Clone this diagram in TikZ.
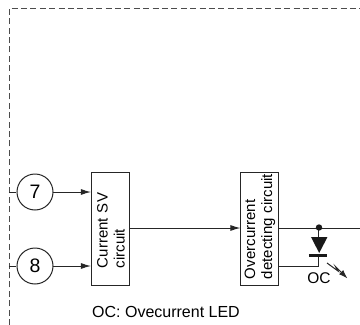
\documentclass[tikz,border=0pt]{standalone}
\usepackage{fontspec}
\setmainfont{Liberation Sans}
\usetikzlibrary{arrows.meta}
\begin{document}
\begin{tikzpicture}[x=1pt,y=-1pt]
        \tikzstyle{label}=[inner sep=0pt,font=\fontsize{15.5}{17}\selectfont]
        \tikzstyle{port}=[circle,draw=black!85,line width=1pt,minimum size=36pt,inner sep=0pt,font=\fontsize{19.5}{20}\selectfont]
        \tikzstyle{block}=[rectangle,draw=black!85,line width=1pt,minimum height=38pt,text width=113pt,inner sep=0pt,rotate=90,align=left,font=\fontsize{15}{17}\selectfont]
        \tikzstyle{wire}=[draw=black!85,line width=1pt]
        \tikzstyle{edge}=[draw=black!85,line width=1pt,-{Latex[length=10pt,width=6pt]}]
        \tikzstyle{boundary}=[draw=black!70,line width=0.9pt,dash pattern=on 6pt off 3.4pt]
        \useasboundingbox (0,0) rectangle (360,325);
        \coordinate (c0) at (9,325);
        \coordinate (c1) at (9,8);
        \coordinate (c2) at (360,8);
        \draw[boundary] (c0) -- (c1) -- (c2);
        \begin{scope}
           \node [port] (p7) at (35,192) {7};
           \node [port] (p8) at (35,266) {8};
           \node [block] (sv) at (111,228.5) {\hspace*{17pt}Current SV\\\hspace*{17pt}circuit};
           \node [block] (det) at (260,228.5) {\hspace*{6pt}Overcurrent\\\hspace*{6pt}detecting circuit};
           \node [label] (oc) at (319,278) {OC};
           \node [label,anchor=west,font=\fontsize{16}{17}\selectfont] (note) at (92,312) {OC: Ovecurrent LED};
           \coordinate (s7) at (9,192);
           \coordinate (s8) at (9,266);
           \coordinate (e7) at (91,192);
           \coordinate (e8) at (91,266);
           \coordinate (out) at (360,228);
           \coordinate (j1) at (319,228);
           \coordinate (top) at (319,237);
           \coordinate (bar) at (319,255);
           \coordinate (j2) at (319,266);
           \coordinate (d2) at (279,266);
           \coordinate (barl) at (309,255);
           \coordinate (barr) at (327.5,255);
           \path[wire] (s7) -- (p7);
           \path[wire] (s8) -- (p8);
           \path[edge] (p7) -- (e7);
           \path[edge] (p8) -- (e8);
           \path[edge] (sv.south |- 0,228) -- (det.north |- 0,228);
           \path[wire] (det.south |- 0,228) -- (out);
           \path[wire] (j1) -- (top);
           \path[wire] (bar) -- (j2) -- (d2);
           \fill[black!90] (319,227.5) circle (3.2pt);
           \fill[black!90] (311,237) -- (327.5,237) -- (319.2,253) -- cycle;
           \draw[black!90,line width=3pt] (barl) -- (barr);
           \coordinate (a1) at (327,263);
           \coordinate (a2) at (338,271);
           \coordinate (a3) at (335.5,266.5);
           \coordinate (a4) at (347.5,278.5);
           \path[draw=black!85,line width=1pt,-{Latex[length=9pt,width=6pt]}] (a1) -- (a2) -- (a3) -- (a4);
        \end{scope}
      \end{tikzpicture}
\end{document}
